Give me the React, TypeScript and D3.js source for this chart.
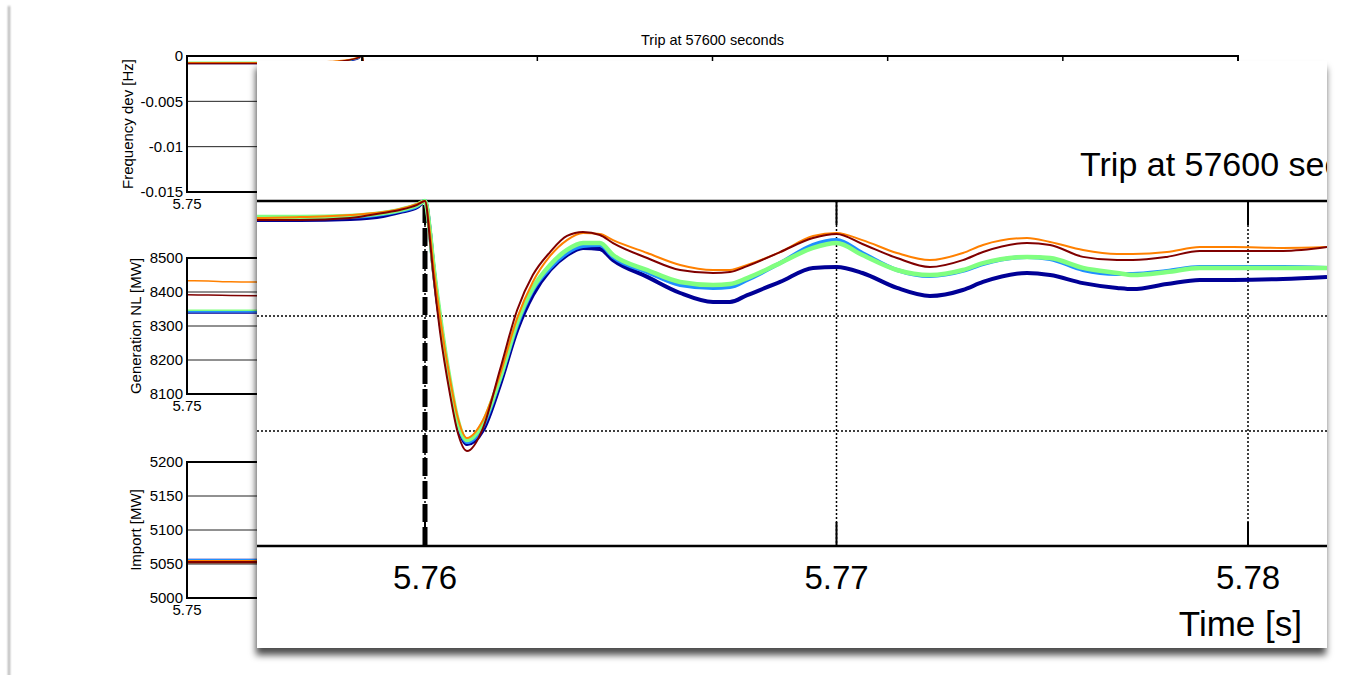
import React from "react";
import * as d3 from "d3";

const WIDTH = 1356;
const HEIGHT = 675;
const FONT = "Arial, 'Liberation Sans', Helvetica, sans-serif";

// time axis, in units of 10^4 s
const time = [5.75, 5.75592, 5.75696, 5.75818, 5.75898, 5.75939, 5.75981, 5.76, 5.76012, 5.76019, 5.76036, 5.76061, 5.76078, 5.76102, 5.76141, 5.76182, 5.76224, 5.76262, 5.76304, 5.76345, 5.76384, 5.76425, 5.76457, 5.7654, 5.7662, 5.767, 5.76741, 5.76783, 5.76863, 5.76943, 5.77, 5.77063, 5.77147, 5.77227, 5.77307, 5.77356, 5.77463, 5.77519, 5.77599, 5.77682, 5.7772, 5.77803, 5.77883, 5.77964, 5.78085, 5.78192];

// frequency deviation, mHz
const freqNavy = [-0.83, -0.83, -0.83, -0.78, -0.65, -0.48, -0.26, 0, -1.35, -2.65, -5.09, -8.0, -9.61, -10.57, -9.96, -8.0, -5.61, -4.09, -3.0, -2.35, -2.04, -2.09, -2.57, -3.3, -4.0, -4.39, -4.39, -4.09, -3.52, -2.91, -2.87, -3.13, -3.78, -4.13, -3.87, -3.52, -3.13, -3.22, -3.57, -3.78, -3.83, -3.61, -3.43, -3.43, -3.39, -3.3];
const freqBlue = [-0.74, -0.74, -0.74, -0.7, -0.57, -0.43, -0.22, 0, -1.35, -2.57, -5.09, -8.0, -9.52, -10.48, -9.78, -7.78, -5.39, -3.87, -2.91, -2.26, -1.96, -1.91, -2.43, -3.09, -3.65, -3.78, -3.74, -3.43, -2.7, -1.91, -1.7, -2.26, -3.0, -3.26, -3.04, -2.74, -2.43, -2.52, -3.0, -3.17, -3.17, -3.04, -2.87, -2.87, -2.87, -2.91];
const freqGreen = [-0.7, -0.7, -0.7, -0.65, -0.52, -0.39, -0.17, 0, -1.35, -2.57, -4.96, -7.87, -9.43, -10.39, -9.65, -7.7, -5.26, -3.78, -2.78, -2.13, -1.83, -1.83, -2.35, -3.0, -3.52, -3.65, -3.61, -3.35, -2.7, -2.04, -1.83, -2.35, -3.0, -3.22, -3.0, -2.7, -2.43, -2.48, -2.91, -3.13, -3.22, -3.09, -2.91, -2.91, -2.91, -2.91];
const freqOrange = [-0.74, -0.74, -0.7, -0.61, -0.48, -0.35, -0.13, 0, -1.35, -2.57, -4.96, -7.78, -9.3, -10.3, -9.52, -7.57, -5.09, -3.52, -2.39, -1.7, -1.39, -1.43, -1.7, -2.26, -2.78, -3.0, -3.0, -2.78, -2.22, -1.52, -1.39, -1.7, -2.26, -2.57, -2.26, -1.91, -1.61, -1.78, -2.13, -2.3, -2.3, -2.22, -2.0, -2.0, -2.04, -2.0];
const freqRed = [-0.83, -0.83, -0.83, -0.74, -0.52, -0.39, -0.17, 0, -1.7, -3.0, -5.61, -8.43, -9.96, -10.87, -9.87, -7.35, -4.74, -3.22, -2.22, -1.52, -1.35, -1.48, -1.83, -2.48, -3.0, -3.13, -3.09, -2.83, -2.22, -1.61, -1.43, -1.87, -2.48, -2.87, -2.57, -2.22, -1.83, -1.91, -2.43, -2.57, -2.57, -2.43, -2.17, -2.17, -2.17, -2.0];

// generation and import, MW (only the start of the window is visible)
const powerTime = [5.75, 5.7512, 5.7525, 5.7545, 5.757];
const genNavy = [8338, 8338, 8338, 8338, 8338];
const genBlue = [8342, 8342, 8342, 8342, 8342];
const genGreen = [8346, 8346, 8346, 8346, 8346];
const genOrange = [8433, 8432, 8430, 8429, 8428];
const genRed = [8392, 8391, 8390, 8389, 8388];
const impNavy = [5056, 5056, 5056, 5056, 5056];
const impBlue = [5055.5, 5055.5, 5055.5, 5055.5, 5055.5];
const impGreen = [5053, 5053, 5053, 5053, 5053];
const impOrange = [5054, 5054, 5054, 5054, 5054];
const impRed = [5052.5, 5052.5, 5052.5, 5052.5, 5052.5];

const seriesColors = ["#000096", "#1f8fff", "#80ff80", "#ff8000", "#800000"];

const freqTicks = [0, -5, -10, -15];
const freqTickLabels = ["0", "-0.005", "-0.01", "-0.015"];
const genTicks = [8100, 8200, 8300, 8400, 8500];
const impTicks = [5000, 5050, 5100, 5150, 5200];
const bgTimeTicks = [5.75, 5.76, 5.77, 5.78, 5.79, 5.8, 5.81];
const insetTimeTicks = [5.76, 5.77, 5.78];
const tripTime = 5.76;

export default function App() {
  const xBg = d3.scaleLinear().domain([5.75, 5.81]).range([187, 1238]);

  const panels = [
    {
      key: "freq", label: "Frequency dev [Hz]", top: 56, bottom: 192, domain: [-15, 0],
      ticks: freqTicks, tickLabels: freqTickLabels, t: time, lw: 1.5,
      series: [freqNavy, freqBlue, freqGreen, freqOrange, freqRed],
    },
    {
      key: "gen", label: "Generation NL [MW]", top: 258, bottom: 394, domain: [8100, 8500],
      ticks: genTicks, tickLabels: genTicks.map(String), t: powerTime, lw: 1.5,
      series: [genNavy, genBlue, genGreen, genOrange, genRed],
    },
    {
      key: "imp", label: "Import [MW]", top: 462, bottom: 598, domain: [5000, 5200],
      ticks: impTicks, tickLabels: impTicks.map(String), t: powerTime, lw: 2.5,
      series: [impNavy, impBlue, impGreen, impOrange, impRed],
    },
  ];

  // magnified inset
  const inset = { x: 257, y: 61, w: 1070, h: 587 };
  const xIn = d3.scaleLinear().domain([5.76, 5.78]).range([425, 1248]);
  const yIn = d3.scaleLinear().domain([0, -15]).range([201, 546]);
  const insetWidths = [4, 4, 4.5, 2, 2];
  const freqSeries = [freqNavy, freqBlue, freqGreen, freqOrange, freqRed];

  const insetLine = d3.line<number>()
    .x((_, i) => xIn(time[i]))
    .y(d => yIn(d))
    .curve(d3.curveMonotoneX);

  return (
    <svg width={WIDTH} height={HEIGHT} fontFamily={FONT}
      style={{ position: "absolute", left: 0, top: 0, background: "#fff", display: "block" }}>
      <defs>
        <filter id="pageBlur" x="-300%" y="-5%" width="700%" height="110%">
          <feGaussianBlur stdDeviation="1.3" />
        </filter>
        <filter id="insetShadow" x="-5%" y="-5%" width="110%" height="115%">
          <feDropShadow dx="-1" dy="7" stdDeviation="3.5" floodColor="#000" floodOpacity="0.7" />
        </filter>
        {panels.map(p => (
          <clipPath id={`clip-${p.key}`} key={p.key}>
            <rect x={187} y={p.top} width={1238 - 187} height={p.bottom - p.top} />
          </clipPath>
        ))}
        <clipPath id="insetClip">
          <rect x={inset.x} y={inset.y} width={inset.w} height={inset.h} />
        </clipPath>
      </defs>

      {/* page edge shadow */}
      <rect x={8} y={6} width={2} height={700} fill="#aaa" filter="url(#pageBlur)" />

      {/* background title */}
      <text x={(187 + 1238) / 2} y={45} textAnchor="middle" fontSize={14.5}>Trip at 57600 seconds</text>

      {/* background subplots */}
      {panels.map(p => {
        const y = d3.scaleLinear().domain(p.domain).range([p.bottom, p.top]);
        const line = d3.line<number>()
          .x((_, i) => xBg(p.t[i]))
          .y(d => y(d))
          .curve(d3.curveMonotoneX);
        return (
          <g key={p.key}>
            {p.ticks.slice(1, -1).map(t => (
              <line key={t} x1={187} x2={1238} y1={y(t)} y2={y(t)} stroke="#222" strokeWidth={1} />
            ))}
            <g clipPath={`url(#clip-${p.key})`}>
              {p.key === "freq" && (
                <line x1={xBg(tripTime)} x2={xBg(tripTime)} y1={p.top} y2={p.bottom}
                  stroke="#000" strokeWidth={2} strokeDasharray="8,3" />
              )}
              {p.series.map((s, i) => (
                <path key={i} d={line(s) || ""} fill="none" stroke={seriesColors[i]} strokeWidth={p.lw} />
              ))}
            </g>
            {bgTimeTicks.map(t => (
              <g key={t}>
                <line x1={xBg(t)} x2={xBg(t)} y1={p.top} y2={p.top + 5} stroke="#000" strokeWidth={1.5} />
                <line x1={xBg(t)} x2={xBg(t)} y1={p.bottom} y2={p.bottom - 5} stroke="#000" strokeWidth={1.5} />
              </g>
            ))}
            <rect x={187} y={p.top} width={1238 - 187} height={p.bottom - p.top} fill="none" stroke="#000" strokeWidth={2} />
            {p.ticks.map((t, i) => (
              <text key={t} x={183} y={y(t)} dy="0.36em" textAnchor="end" fontSize={15}>{p.tickLabels[i]}</text>
            ))}
            <text x={187} y={p.bottom + 17} textAnchor="middle" fontSize={15}>{d3.format(".2f")(5.75)}</text>
            <text transform={`translate(${p.key === "freq" ? 133 : 141},${(p.top + p.bottom) / 2}) rotate(-90)`}
              textAnchor="middle" fontSize={15}>{p.label}</text>
          </g>
        );
      })}

      {/* magnified inset */}
      <rect x={inset.x} y={inset.y} width={inset.w} height={inset.h} fill="#fff" filter="url(#insetShadow)" />
      <g clipPath="url(#insetClip)">
        <text x={1080} y={176} fontSize={34}>Trip at 57600 seconds</text>

        {[-5, -10].map(v => (
          <line key={v} x1={inset.x} x2={inset.x + inset.w} y1={yIn(v)} y2={yIn(v)}
            stroke="#000" strokeWidth={1.5} strokeDasharray="2,2" />
        ))}
        {insetTimeTicks.map(t => (
          <g key={t}>
            <line x1={xIn(t)} x2={xIn(t)} y1={yIn(0)} y2={yIn(-15)} stroke="#000" strokeWidth={1.5} strokeDasharray="2,2" />
            <line x1={xIn(t)} x2={xIn(t)} y1={yIn(0)} y2={yIn(0) + 24} stroke="#000" strokeWidth={2} />
            <line x1={xIn(t)} x2={xIn(t)} y1={yIn(-15)} y2={yIn(-15) - 24} stroke="#000" strokeWidth={2} />
            <text x={xIn(t)} y={589} textAnchor="middle" fontSize={33}>{d3.format(".2f")(t)}</text>
          </g>
        ))}
        <line x1={inset.x} x2={inset.x + inset.w} y1={yIn(0)} y2={yIn(0)} stroke="#000" strokeWidth={2.5} />
        <line x1={inset.x} x2={inset.x + inset.w} y1={yIn(-15)} y2={yIn(-15)} stroke="#000" strokeWidth={2.5} />

        <line x1={xIn(tripTime)} x2={xIn(tripTime)} y1={yIn(0) + 4} y2={yIn(-15)}
          stroke="#000" strokeWidth={5} strokeDasharray="18,5" />

        {freqSeries.map((s, i) => (
          <path key={i} d={insetLine(s) || ""} fill="none" stroke={seriesColors[i]}
            strokeWidth={insetWidths[i]} strokeLinejoin="round" />
        ))}

        <text x={1302} y={636} textAnchor="end" fontSize={35}>Time [s]</text>
      </g>
    </svg>
  );
}
